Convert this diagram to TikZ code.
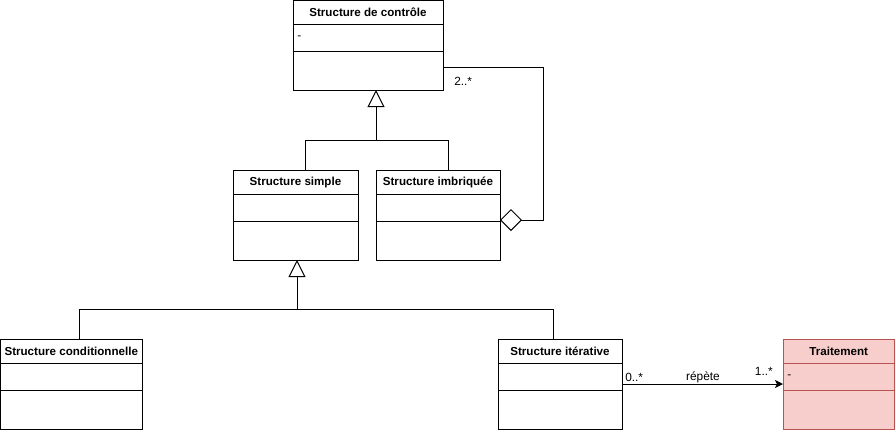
\documentclass[tikz,border=0pt]{standalone}
\usepackage{fontspec}
\setmainfont{Liberation Sans}
\usetikzlibrary{arrows.meta}
\definecolor{pinkfill}{HTML}{F8CECC}
\definecolor{pinkline}{HTML}{B85450}
\definecolor{divgray}{HTML}{8C8C8C}
\newcommand\umlcls[8]{% fill, line, name, x, y, w, h, title
  \node[clsbox,fill=#1,draw=#2,minimum width=#6*0.75pt,minimum height=#7*0.75pt] (#3) at (#4,#5) {};
  \node[titletext] (#3-title) at ([yshift=-12*0.75pt]#3.north) {#8};
  \draw[divline,draw=#2] ([yshift=-24*0.75pt]#3.north west) -- ([yshift=-24*0.75pt]#3.north east);
  \draw[divline,draw=#2] ([yshift=-51*0.75pt]#3.north west) -- ([yshift=-51*0.75pt]#3.north east);
}
\begin{document}
\begin{tikzpicture}[x=0.75pt,y=-0.75pt,
  clsbox/.style={rectangle,inner sep=0pt,outer sep=0pt,anchor=north west,line width=0.75pt},
  titletext/.style={font=\fontsize{8.7}{11}\selectfont\bfseries,inner sep=0pt},
  divline/.style={line width=0.6pt},
  small/.style={font=\fontsize{8.9}{10}\selectfont,inner sep=0pt},
  conn/.style={line width=0.75pt},
  gen/.style={conn,-{Triangle[open,length=17*0.75pt,width=17*0.75pt]}},
  agg/.style={conn,{Diamond[open,length=22*0.75pt,width=22*0.75pt]}-},
  assoc/.style={conn,-{Stealth[length=8*0.75pt,width=8*0.75pt,inset=2*0.75pt]}}
]
\useasboundingbox (0,0) rectangle (895,430);
\umlcls{white}{black}{ctrl}{293}{0.5}{150}{89.5}{Structure de contrôle}
\umlcls{white}{black}{simple}{233}{170}{125}{90}{Structure simple}
\umlcls{white}{black}{imbr}{376}{170}{124}{90}{Structure imbriquée}
\umlcls{white}{black}{cond}{0.5}{339}{141.5}{90}{Structure conditionnelle}
\umlcls{white}{black}{iter}{498}{339}{124}{90}{Structure itérative}
\umlcls{pinkfill}{pinkline}{trait}{783}{339}{111.5}{90}{Traitement}
\node[small,anchor=west] (ctrl-attr) at (297,38) {-};
\node[small,anchor=west] (trait-attr) at (787,377) {-};
% generalization 1
\coordinate (j1) at (376,140);
\coordinate (j1l) at (305,140);
\coordinate (j1r) at (448,140);
\draw[conn] (simple.north -| j1l) -- (j1l) -- (j1r) -- (imbr.north -| j1r);
\draw[gen] (j1) -- (ctrl.south -| j1);
% generalization 2
\coordinate (j2) at (297,309);
\coordinate (j2l) at (79,309);
\coordinate (j2r) at (553,309);
\draw[conn] (cond.north -| j2l) -- (j2l) -- (j2r) -- (iter.north -| j2r);
\draw[gen] (j2) -- (simple.south -| j2);
% aggregation
\coordinate (a1) at (543,220);
\coordinate (a2) at (543,67);
\draw[agg] (imbr.east |- a1) -- (a1) -- (a2) -- (ctrl.east |- a2);
\node[small,anchor=west] (mult1) at (454,81) {2..*};
% association
\coordinate (r1) at (622,384);
\draw[assoc] (iter.east |- r1) -- (trait.west |- r1);
\node[small,anchor=west] (m0) at (625,377) {0..*};
\node[small] (lbl) at (703,377) {répète};
\node[small,anchor=east] (m1) at (773,371) {1..*};
\end{tikzpicture}
\end{document}
